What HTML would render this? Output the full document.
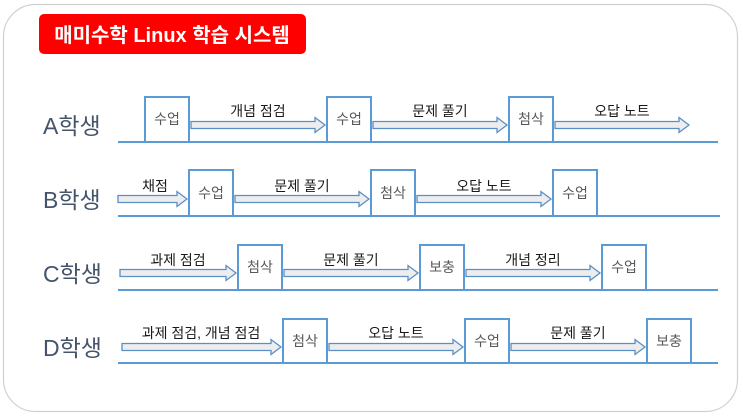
<!DOCTYPE html>
<html><head><meta charset="utf-8"><style>
html,body{margin:0;padding:0;background:#fff;}
svg{display:block;}
text{font-family:"Liberation Sans","Noto Sans CJK KR",sans-serif;}
</style></head><body>
<svg width="743" height="417" viewBox="0 0 743 417" xmlns="http://www.w3.org/2000/svg">
<rect x="3.5" y="4.5" width="734" height="407" rx="32" fill="#fff" stroke="#d0d0d0" stroke-width="1.2"/>
<rect x="39" y="14" width="267" height="40" rx="5" fill="#ff0000"/>
<text x="172" y="42" font-size="20" font-weight="bold" fill="#fff" text-anchor="middle">매미수학 Linux 학습 시스템</text>

<g font-size="23" fill="#44546a">
<text x="43" y="134">A학생</text>
<text x="43" y="208">B학생</text>
<text x="43" y="282">C학생</text>
<text x="43" y="356">D학생</text>
</g>

<g stroke="#5b9bd5" stroke-width="2" fill="none">
<line x1="118" y1="142" x2="718" y2="142"/>
<line x1="118" y1="216" x2="720" y2="216"/>
<line x1="118" y1="290" x2="718" y2="290"/>
<line x1="118" y1="363" x2="718" y2="363"/>
<rect x="145" y="97" width="44" height="45" fill="#fff"/>
<rect x="327" y="97" width="44" height="45" fill="#fff"/>
<rect x="509" y="97" width="44" height="45" fill="#fff"/>
<rect x="189" y="170" width="44" height="46" fill="#fff"/>
<rect x="371" y="170" width="44" height="46" fill="#fff"/>
<rect x="553" y="170" width="44" height="46" fill="#fff"/>
<rect x="238" y="245" width="44" height="45" fill="#fff"/>
<rect x="420" y="245" width="44" height="45" fill="#fff"/>
<rect x="602" y="245" width="44" height="45" fill="#fff"/>
<rect x="283" y="319" width="44" height="44" fill="#fff"/>
<rect x="465" y="319" width="44" height="44" fill="#fff"/>
<rect x="647" y="319" width="44" height="44" fill="#fff"/>
</g>

<g fill="#ededed" stroke="#5b8fc7" stroke-width="1.3">
<polygon points="191,121.5 315,121.5 315,117.5 325,125 315,132.5 315,128.5 191,128.5"/>
<polygon points="373,121.5 497,121.5 497,117.5 507,125 497,132.5 497,128.5 373,128.5"/>
<polygon points="555,121.5 679,121.5 679,117.5 689,125 679,132.5 679,128.5 555,128.5"/>
<polygon points="118,195.5 177,195.5 177,191.5 187,199 177,206.5 177,202.5 118,202.5"/>
<polygon points="235,195.5 359,195.5 359,191.5 369,199 359,206.5 359,202.5 235,202.5"/>
<polygon points="417,195.5 541,195.5 541,191.5 551,199 541,206.5 541,202.5 417,202.5"/>
<polygon points="120,269.5 226,269.5 226,265.5 236,273 226,280.5 226,276.5 120,276.5"/>
<polygon points="284,269.5 408,269.5 408,265.5 418,273 408,280.5 408,276.5 284,276.5"/>
<polygon points="466,269.5 590,269.5 590,265.5 600,273 590,280.5 590,276.5 466,276.5"/>
<polygon points="122,343.5 271,343.5 271,339.5 281,347 271,354.5 271,350.5 122,350.5"/>
<polygon points="329,343.5 453,343.5 453,339.5 463,347 453,354.5 453,350.5 329,350.5"/>
<polygon points="511,343.5 635,343.5 635,339.5 645,347 635,354.5 635,350.5 511,350.5"/>
</g>

<g font-size="14" fill="#595959" text-anchor="middle">
<text x="167" y="124">수업</text>
<text x="349" y="124">수업</text>
<text x="531" y="124">첨삭</text>
<text x="211" y="198">수업</text>
<text x="393" y="198">첨삭</text>
<text x="575" y="198">수업</text>
<text x="260" y="272">첨삭</text>
<text x="442" y="272">보충</text>
<text x="624" y="272">수업</text>
<text x="305" y="346">첨삭</text>
<text x="487" y="346">수업</text>
<text x="669" y="346">보충</text>
</g>

<g font-size="14" fill="#1a1a1a" text-anchor="middle">
<text x="258" y="116">개념 점검</text>
<text x="440" y="116">문제 풀기</text>
<text x="622" y="116">오답 노트</text>
<text x="155" y="191">채점</text>
<text x="302" y="191">문제 풀기</text>
<text x="484" y="191">오답 노트</text>
<text x="178" y="265">과제 점검</text>
<text x="351" y="265">문제 풀기</text>
<text x="533" y="265">개념 정리</text>
<text x="201" y="338">과제 점검, 개념 점검</text>
<text x="396" y="338">오답 노트</text>
<text x="578" y="338">문제 풀기</text>
</g>
</svg>
</body></html>
